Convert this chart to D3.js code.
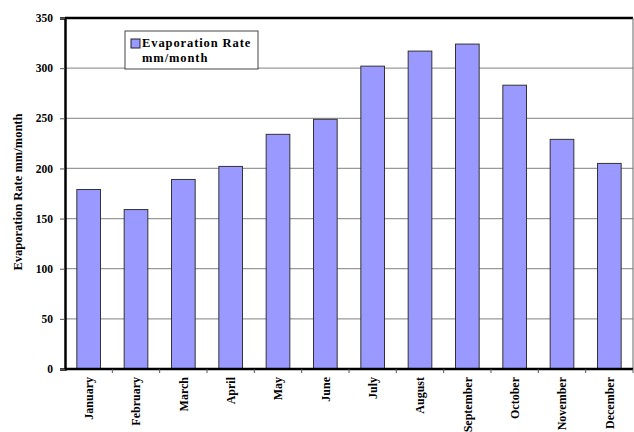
<!DOCTYPE html>
<html><head><meta charset="utf-8">
<script src="https://cdn.jsdelivr.net/npm/d3@7"></script>
<style>body{margin:0;background:#fff}svg{display:block}svg text{font-family:"Liberation Serif","Times New Roman","DejaVu Serif",serif !important;font-weight:bold}</style>
</head><body>
<svg id="c" width="634" height="432"></svg>
<script>
const months = ["January","February","March","April","May","June","July","August","September","October","November","December"];
const evaporation = [179, 159, 189, 202, 234, 249, 302, 317, 324, 283, 229, 205];
const yTicks = [0, 50, 100, 150, 200, 250, 300, 350];
const seriesName = ["Evaporation Rate", "mm/month"];
const yTitle = "Evaporation Rate mm/month";

const svg = d3.select("#c");
const m = {l:65, t:18, r:633, b:369};
const x = d3.scaleBand().domain(months).range([m.l, m.r]).paddingInner(0.5).paddingOuter(0.25);
const y = d3.scaleLinear().domain([0, 350]).range([m.b, m.t]);

// gridlines
svg.append("g").selectAll("line").data(yTicks.filter(d => d > 0 && d < 350)).join("line")
  .attr("x1", m.l).attr("x2", m.r).attr("y1", d => y(d)).attr("y2", d => y(d))
  .attr("stroke", "#999").attr("stroke-width", 1.2);

// plot frame
svg.append("line").attr("x1", m.l).attr("x2", m.r).attr("y1", m.t).attr("y2", m.t).attr("stroke", "#000").attr("stroke-width", 2.5);
svg.append("line").attr("x1", m.r).attr("x2", m.r).attr("y1", m.t).attr("y2", m.b).attr("stroke", "#666").attr("stroke-width", 1);

// bars
svg.append("g").selectAll("rect").data(evaporation).join("rect")
  .attr("x", (d, i) => x(months[i])).attr("width", x.bandwidth())
  .attr("y", d => y(d)).attr("height", d => y(0) - y(d))
  .attr("fill", "#9999ff").attr("stroke", "#333").attr("stroke-width", 1);

// y axis
const ya = svg.append("g").attr("transform", `translate(${m.l},0)`)
  .call(d3.axisLeft(y).tickValues(yTicks).tickSize(5).tickPadding(7).tickFormat(d3.format("d")));
ya.select(".domain").attr("stroke", "#000").attr("stroke-width", 2.5);
ya.selectAll(".tick line").attr("stroke", "#555");
ya.selectAll("text").attr("font-size", 11.5).attr("fill", "#000");

// x axis
const bands = d3.scaleLinear().domain([0, 12]).range([m.l, m.r]);
const xa = svg.append("g").attr("transform", `translate(0,${m.b})`)
  .call(d3.axisBottom(x).tickSize(0).tickPadding(0));
xa.select(".domain").remove();
svg.append("line").attr("x1", m.l).attr("x2", m.r).attr("y1", m.b).attr("y2", m.b).attr("stroke", "#000").attr("stroke-width", 2.5);
svg.append("g").selectAll("line").data(d3.range(1, 13)).join("line")
  .attr("x1", d => bands(d)).attr("x2", d => bands(d)).attr("y1", m.b).attr("y2", m.b + 4)
  .attr("stroke", "#555");
xa.selectAll(".tick text")
  .attr("transform", "rotate(-90)").attr("x", -8).attr("y", 0).attr("dy", "0.35em")
  .attr("text-anchor", "end").attr("font-size", 12).attr("fill", "#000");

// y title
svg.append("text").attr("transform", `translate(22,192) rotate(-90)`)
  .attr("text-anchor", "middle").attr("font-size", 12.5).text(yTitle);

// legend
const lg = svg.append("g");
lg.append("rect").attr("x", 125).attr("y", 31).attr("width", 133).attr("height", 38)
  .attr("fill", "#fff").attr("stroke", "#444").attr("stroke-width", 1);
lg.append("rect").attr("x", 131).attr("y", 39).attr("width", 9).attr("height", 9)
  .attr("fill", "#9999ff").attr("stroke", "#222");
lg.append("text").attr("x", 142).attr("y", 47).attr("font-size", 12.5).attr("letter-spacing", 0.9).text(seriesName[0]);
lg.append("text").attr("x", 142).attr("y", 62).attr("font-size", 12.5).attr("letter-spacing", 0.9).text(seriesName[1]);
</script>
</body></html>
